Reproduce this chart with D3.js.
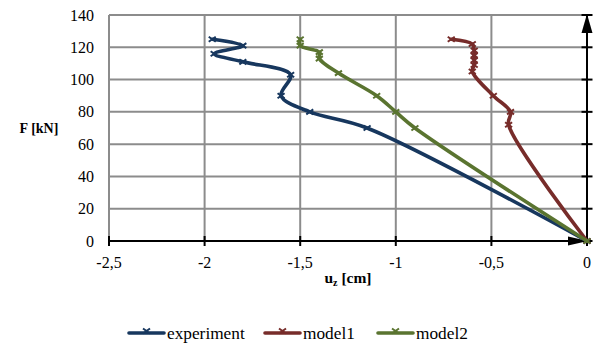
<!DOCTYPE html>
<html>
<head>
<meta charset="utf-8">
<script src="https://cdn.jsdelivr.net/npm/d3@7/dist/d3.min.js"></script>
<style>
  html, body { margin: 0; padding: 0; background: #fff; }
  svg { display: block; }
</style>
</head>
<body>
<svg id="chart" width="600" height="347"></svg>
<script>
// Load–displacement curves: vertical displacement u_z [cm] vs force F [kN]
const seriesNames = ["experiment", "model1", "model2"];
const seriesColors = ["#17375E", "#772C2A", "#5A7430"];

const experimentU = [0, -1.15, -1.45, -1.60, -1.55, -1.80, -1.95, -1.80, -1.96];
const experimentF = [0, 70, 80, 90, 103, 111, 116, 121, 125];

const model1U = [0, -0.41, -0.40, -0.49, -0.60, -0.59, -0.59, -0.59, -0.59, -0.60, -0.71];
const model1F = [0, 72, 80, 90, 105, 109, 112, 115, 118, 122, 125];

const model2U = [0, -0.90, -1.00, -1.10, -1.30, -1.40, -1.40, -1.50, -1.50];
const model2F = [0, 70, 80, 90, 104, 113, 117, 121, 125];

const xTicks = [-2.5, -2, -1.5, -1, -0.5, 0];
const xTickLabels = ["-2,5", "-2", "-1,5", "-1", "-0,5", "0"];
const yTicks = [0, 20, 40, 60, 80, 100, 120, 140];
const yTickLabels = ["0", "20", "40", "60", "80", "100", "120", "140"];

const xTitle = "u";
const xTitleSub = "z";
const xTitleUnit = " [cm]";
const yTitle = "F [kN]";

const series = [
  { name: seriesNames[0], color: seriesColors[0], u: experimentU, f: experimentF },
  { name: seriesNames[1], color: seriesColors[1], u: model1U, f: model1F },
  { name: seriesNames[2], color: seriesColors[2], u: model2U, f: model2F }
];

const FONT = "'Liberation Serif', 'DejaVu Serif', 'Times New Roman', Times, serif";

const svg = d3.select("#chart")
  .attr("font-family", FONT)
  .style("font-family", FONT);
const x = d3.scaleLinear().domain([-2.5, 0]).range([109, 587]);
const y = d3.scaleLinear().domain([0, 140]).range([241, 15]);

const gridColor = "#8C8C8C";

// gridlines
svg.append("g").selectAll("line").data(yTicks.filter(v => v > 0)).join("line")
  .attr("x1", x(-2.5)).attr("x2", x(0))
  .attr("y1", d => y(d)).attr("y2", d => y(d))
  .attr("stroke", gridColor).attr("stroke-width", 2);
svg.append("g").selectAll("line").data(xTicks.filter(v => v < 0)).join("line")
  .attr("x1", d => x(d)).attr("x2", d => x(d))
  .attr("y1", y(0)).attr("y2", y(140))
  .attr("stroke", gridColor).attr("stroke-width", 2);

// x axis (at F = 0) with crossing ticks and arrow
const axes = svg.append("g");
axes.append("line")
  .attr("x1", x(-2.5)).attr("x2", x(0))
  .attr("y1", y(0)).attr("y2", y(0))
  .attr("stroke", "#000").attr("stroke-width", 2);
axes.append("g").selectAll("line").data(xTicks).join("line")
  .attr("x1", d => x(d)).attr("x2", d => x(d))
  .attr("y1", y(0) - 5).attr("y2", y(0) + 5)
  .attr("stroke", "#000").attr("stroke-width", 2);
axes.append("path")
  .attr("d", `M${x(0) + 1},${y(0)} L${x(0) - 19},${y(0) - 4.5} L${x(0) - 19},${y(0) + 4.5} Z`)
  .attr("fill", "#000");

// y axis (at u = 0) with crossing ticks and arrow
axes.append("line")
  .attr("x1", x(0)).attr("x2", x(0))
  .attr("y1", y(0)).attr("y2", y(140))
  .attr("stroke", "#000").attr("stroke-width", 2);
axes.append("g").selectAll("line").data(yTicks).join("line")
  .attr("x1", x(0) - 5.5).attr("x2", x(0) + 5.5)
  .attr("y1", d => y(d)).attr("y2", d => y(d))
  .attr("stroke", "#000").attr("stroke-width", 2);
axes.append("path")
  .attr("d", `M${x(0)},${y(140) - 1} L${x(0) - 5.5},${y(140) + 18} L${x(0) + 5.5},${y(140) + 18} Z`)
  .attr("fill", "#000");

// tick labels
svg.append("g").selectAll("text").data(yTicks).join("text")
  .attr("x", 94).attr("y", d => y(d) + 5.5)
  .attr("text-anchor", "end").attr("font-size", 16)
  .text((d, i) => yTickLabels[i]);
svg.append("g").selectAll("text").data(xTicks).join("text")
  .attr("x", d => x(d)).attr("y", 268)
  .attr("text-anchor", "middle").attr("font-size", 16)
  .text((d, i) => xTickLabels[i]);

// axis titles
svg.append("text")
  .attr("x", 39).attr("y", 133)
  .attr("text-anchor", "middle").attr("font-size", 14).attr("font-weight", "bold")
  .text(yTitle);
const xt = svg.append("text")
  .attr("x", 348).attr("y", 283)
  .attr("text-anchor", "middle").attr("font-size", 15.5).attr("font-weight", "bold");
xt.append("tspan").text(xTitle);
xt.append("tspan").attr("font-size", 10).attr("dy", 3).text(xTitleSub);
xt.append("tspan").attr("dy", -3).text(xTitleUnit);

// series lines
const line = d3.line()
  .x(d => x(d[0])).y(d => y(d[1]))
  .curve(d3.curveCatmullRom.alpha(0.5));

function xMarker(sel, cx, cy, color) {
  sel.append("path")
    .attr("d", `M${cx - 3.5},${cy - 2.5} L${cx + 3.5},${cy + 2.5} M${cx - 3.5},${cy + 2.5} L${cx + 3.5},${cy - 2.5}`)
    .attr("stroke", color).attr("stroke-width", 2).attr("fill", "none");
}

series.forEach(s => {
  const pts = s.u.map((u, i) => [u, s.f[i]]);
  const g = svg.append("g");
  g.append("path")
    .attr("d", line(pts))
    .attr("fill", "none")
    .attr("stroke", s.color)
    .attr("stroke-width", 3.6)
    .attr("stroke-linejoin", "round")
    .attr("stroke-linecap", "round");
  pts.forEach(p => xMarker(g, x(p[0]), y(p[1]), s.color));
});

// legend
const legendX = [129, 265, 378];
const legend = svg.append("g");
series.forEach((s, i) => {
  const lx = legendX[i];
  legend.append("line")
    .attr("x1", lx).attr("x2", lx + 35)
    .attr("y1", 333).attr("y2", 333)
    .attr("stroke", s.color).attr("stroke-width", 3.6).attr("stroke-linecap", "round");
  xMarker(legend, lx + 17.5, 331, s.color);
  legend.append("text")
    .attr("x", lx + 38).attr("y", 338.5)
    .attr("font-size", 17.3)
    .text(s.name);
});
</script>
</body>
</html>
